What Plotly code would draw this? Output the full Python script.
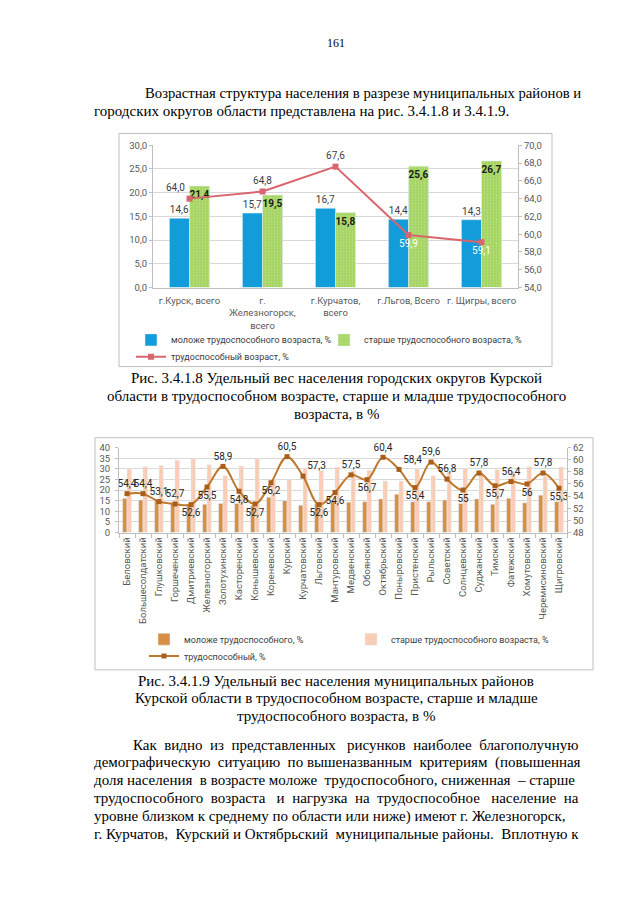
import plotly.graph_objects as go

W, H = 640, 905
SERIF = 'Liberation Serif'
SANS = 'Roboto'
NB = '\u00a0'

# ---- Рис. 3.4.1.8: городские округа ----
cities = ['г.Курск, всего', 'г.<br>Железногорск,<br>всего', 'г.Курчатов,<br>всего',
          'г.Льгов, Всего', 'г. Щигры, всего']
young_city = [14.6, 15.7, 16.7, 14.4, 14.3]
old_city = [21.4, 19.5, 15.8, 25.6, 26.7]
work_city = [64.0, 64.8, 67.6, 59.9, 59.1]

# ---- Рис. 3.4.1.9: муниципальные районы ----
districts = ['Беловский', 'Большесолдатский', 'Глушковский', 'Горшеченский', 'Дмитриевский',
             'Железногорский', 'Золотухинский', 'Касторенский', 'Конышевский', 'Кореневский',
             'Курский', 'Курчатовский', 'Льговский', 'Мантуровский', 'Медвенский', 'Обоянский',
             'Октябрьский', 'Поныровский', 'Пристенский', 'Рыльский', 'Советский', 'Солнцевский',
             'Суджанский', 'Тимский', 'Фатежский', 'Хомутовский', 'Черемисиновский', 'Щигровский']
young_distr = [16.1, 15.3, 15.0, 13.7, 13.3, 13.3, 13.7, 13.7, 12.6, 16.6,
               15.0, 12.8, 13.7, 15.0, 14.2, 14.5, 15.8, 18.0, 14.5, 14.5,
               15.3, 13.7, 15.8, 13.3, 16.1, 14.0, 17.6, 14.5]
old_distr = [30.2, 31.0, 31.6, 34.0, 34.9, 31.9, 26.7, 31.3, 34.9, 25.1,
             24.8, 30.2, 29.2, 30.8, 29.2, 29.2, 24.3, 24.3, 30.2, 26.7,
             28.4, 30.2, 28.4, 29.6, 28.7, 31.0, 26.5, 30.8]
work_distr = [54.4, 54.4, 53.1, 52.7, 52.6, 55.5, 58.9, 54.8, 52.7, 56.2,
              60.5, 57.3, 52.6, 54.6, 57.5, 56.7, 60.4, 58.4, 55.4, 59.6,
              56.8, 55.0, 57.8, 55.7, 56.4, 56.0, 57.8, 55.3]
work_distr_pos = ['top center', 'top center', 'top center', 'top center', 'bottom center',
                  'bottom center', 'top center', 'bottom center', 'bottom center', 'bottom center',
                  'top center', 'top right', 'bottom center', 'bottom center', 'top center',
                  'bottom center', 'top center', 'top right', 'bottom center', 'top center',
                  'top center', 'bottom center', 'top center', 'bottom center', 'top center',
                  'bottom center', 'top center', 'bottom center']


def fx(x):
    return x / W


def fy(y):
    return 1 - y / H


def comma(v, fmt='.1f'):
    return format(v, fmt).replace('.', ',')


def spread(line, extra):
    # rough justification: spread extra non-breaking spaces over the gaps
    words = line.split(' ')
    gaps = len(words) - 1
    pads = [0] * gaps
    for j in range(extra):
        pads[int((j + 0.5) * gaps / extra) % gaps] += 1
    out = words[0]
    for p, w in zip(pads, words[1:]):
        out += ' ' + NB * p + w
    return out


fig = go.Figure()

# --- chart 1 ---
fig.add_trace(go.Bar(
    x=cities, y=young_city, name='моложе трудоспособного возраста, %',
    marker=dict(color='#139CDA'),
    text=[comma(v) for v in young_city], texttemplate='%{text}', textposition='outside',
    textfont=dict(family=SANS, size=10, color='#404040'),
    constraintext='none', cliponaxis=False,
    xaxis='x', yaxis='y', legend='legend'
))
fig.add_trace(go.Bar(
    x=cities, y=old_city, name='старше трудоспособного возраста, %',
    marker=dict(color='#A2D35E', pattern=dict(shape='.', fgcolor='#D2ECAE', size=3, solidity=0.35)),
    text=[comma(v) for v in old_city], texttemplate='<b>%{text}</b>',
    textposition='inside', insidetextanchor='end', textangle=0,
    textfont=dict(family=SANS, size=10, color='#1a1a1a'),
    constraintext='none',
    xaxis='x', yaxis='y', legend='legend5'
))
fig.add_trace(go.Scatter(
    x=cities, y=work_city, name='трудоспособный возраст, %',
    mode='lines+markers+text',
    line=dict(color='#D9656E', width=2),
    marker=dict(symbol='square', size=6, color='#D9656E'),
    text=[comma(v) for v in work_city], texttemplate='%{text}',
    textposition=['top left', 'top center', 'top center', 'bottom center', 'bottom center'],
    textfont=dict(family=SANS, size=10, color=['#404040', '#404040', '#404040', 'white', 'white']),
    cliponaxis=False,
    xaxis='x', yaxis='y2', legend='legend3'
))

# --- chart 2 ---
fig.add_trace(go.Bar(
    x=districts, y=young_distr, name='моложе трудоспособного, %',
    marker=dict(color='#D88E45'),
    xaxis='x2', yaxis='y3', legend='legend2'
))
fig.add_trace(go.Bar(
    x=districts, y=old_distr, name='старше трудоспособного возраста, %',
    marker=dict(color='#F8C8AE', pattern=dict(shape='.', fgcolor='#FDE8DC', size=3, solidity=0.35)),
    xaxis='x2', yaxis='y3', legend='legend6'
))
fig.add_trace(go.Scatter(
    x=districts, y=work_distr, name='трудоспособный, %',
    mode='lines+markers+text',
    line=dict(color='#C0782C', width=2, shape='spline', smoothing=1),
    marker=dict(symbol='square', size=5, color='#A95F1A'),
    text=[comma(v, 'g') for v in work_distr], texttemplate='%{text}',
    textposition=work_distr_pos,
    textfont=dict(family=SANS, size=10, color='#262626'),
    cliponaxis=False,
    xaxis='x2', yaxis='y4', legend='legend4'
))

tick_font = dict(family=SANS, size=9.5, color='#595959')
leg_font = dict(family=SANS, size=9, color='#404040')

shapes = [
    dict(type='rect', xref='paper', yref='paper', x0=fx(119), x1=fx(552), y0=fy(365), y1=fy(129),
         line=dict(color='#BFBFBF', width=1)),
    dict(type='rect', xref='paper', yref='paper', x0=fx(95), x1=fx(593), y0=fy(672), y1=fy(437),
         line=dict(color='#BFBFBF', width=1)),
]

# --- page text ---
page_lines = [
    ('161', 336, 37, 'center', 12),
    ('Возрастная структура населения в разрезе муниципальных районов и', 143, 88, 'left', 14.7),
    ('городских округов области представлена на рис. 3.4.1.8 и 3.4.1.9.', 92, 106, 'left', 15),
    ('Рис. 3.4.1.8 Удельный вес населения городских округов Курской', 336, 377, 'center', 15),
    ('области в трудоспособном возрасте, старше и младше трудоспособного', 336, 395, 'center', 15),
    ('возраста, в %', 336, 413, 'center', 15),
    ('Рис. 3.4.1.9 Удельный вес населения муниципальных районов', 336, 683, 'center', 15),
    ('Курской области в трудоспособном возрасте, старше и младше', 336, 701, 'center', 15),
    ('трудоспособного возраста, в %', 336, 719, 'center', 15),
    (spread('Как видно из представленных рисунков наиболее благополучную', 7), 131, 748, 'left', 15),
    (spread('демографическую ситуацию по вышеназванным критериям (повышенная', 4), 92, 766, 'left', 15),
    (spread('доля населения в возрасте моложе трудоспособного, сниженная – старше', 3), 92, 784, 'left', 15),
    (spread('трудоспособного возраста и нагрузка на трудоспособное население на', 9), 92, 802, 'left', 15),
    ('уровне близком к среднему по области или ниже) имеют г. Железногорск,', 92, 820, 'left', 15),
    (spread('г. Курчатов, Курский и Октябрьский муниципальные районы. Вплотную к', 3), 92, 838, 'left', 15),
]
annotations = [
    dict(text=t, x=fx(x), y=fy(y), xref='paper', yref='paper', xanchor=a, yanchor='middle',
         showarrow=False, font=dict(family=SERIF, size=s, color='black'))
    for t, x, y, a, s in page_lines
]

leg_common = dict(orientation='h', xanchor='left', yanchor='middle', font=leg_font,
                  bgcolor='rgba(0,0,0,0)', itemwidth=30, tracegroupgap=0)

fig.update_layout(
    width=W, height=H, margin=dict(l=0, r=0, t=0, b=0),
    paper_bgcolor='white', plot_bgcolor='white',
    separators=', ', showlegend=True,
    barmode='group', bargap=0.45, bargroupgap=0,
    font=dict(family=SANS, color='#595959'),
    xaxis=dict(domain=[fx(153), fx(518)], anchor='y', type='category',
               range=[-0.5, len(cities) - 0.5], showgrid=False,
               showline=True, linecolor='#BFBFBF', ticks='', tickfont=tick_font,
               ticklabelstandoff=4),
    yaxis=dict(domain=[fy(285), fy(141)], anchor='x', range=[0, 30], dtick=5, tickformat='.1f',
               showgrid=True, gridcolor='#D9D9D9', zeroline=False, showline=True,
               linecolor='#BFBFBF', ticks='outside', ticklen=3, tickcolor='#BFBFBF',
               tickfont=tick_font),
    yaxis2=dict(overlaying='y', side='right', anchor='x', range=[54, 70], dtick=2,
                tickformat='.1f', showgrid=False, zeroline=False, showline=True,
                linecolor='#BFBFBF', ticks='outside', ticklen=3, tickcolor='#BFBFBF',
                tickfont=tick_font),
    xaxis2=dict(domain=[fx(119), fx(567)], anchor='y3', type='category',
                range=[-0.5, len(districts) - 0.5], showgrid=False,
                showline=True, linecolor='#BFBFBF', tickangle=-90, tickson='boundaries',
                ticks='outside', ticklen=4, tickcolor='#BFBFBF', tickfont=tick_font),
    yaxis3=dict(domain=[fy(533), fy(447)], anchor='x2', range=[0, 40], dtick=5,
                showgrid=True, gridcolor='#D9D9D9', zeroline=False, showline=True,
                linecolor='#BFBFBF', ticks='outside', ticklen=3, tickcolor='#BFBFBF',
                tickfont=tick_font, ticklabelstandoff=3),
    yaxis4=dict(overlaying='y3', side='right', anchor='x2', range=[48, 62], dtick=2,
                showgrid=False, zeroline=False, showline=True, linecolor='#BFBFBF',
                ticks='outside', ticklen=3, tickcolor='#BFBFBF', tickfont=tick_font),
    legend=dict(x=fx(131), y=fy(338), **leg_common),
    legend5=dict(x=fx(324), y=fy(338), **leg_common),
    legend3=dict(x=fx(131), y=fy(355), **leg_common),
    legend2=dict(x=fx(144), y=fy(641), **leg_common),
    legend6=dict(x=fx(351), y=fy(641), **leg_common),
    legend4=dict(x=fx(144), y=fy(658), **leg_common),
    shapes=shapes,
    annotations=annotations,
)

fig.write_html("out.html", config={'displayModeBar': False},
               post_script="document.body.style.margin='0';")
